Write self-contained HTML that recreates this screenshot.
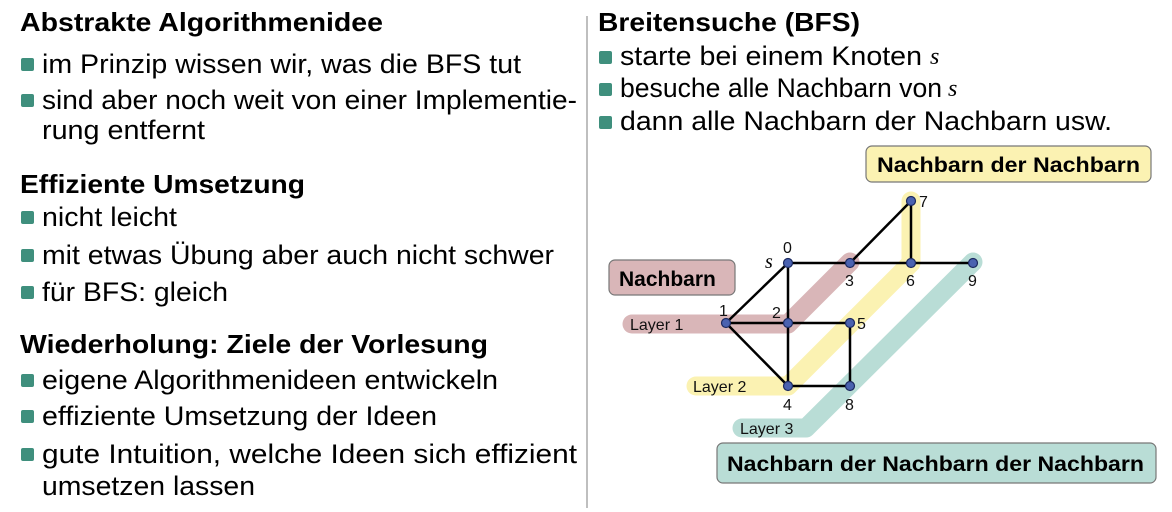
<!DOCTYPE html>
<html><head><meta charset="utf-8"><style>
html,body{margin:0;padding:0;background:#fff;}
svg{display:block;font-family:"Liberation Sans",sans-serif;}
.h{font-weight:bold;font-size:26px;fill:#000}
.b{font-size:27px;fill:#000}
.bl{fill:#3f8f7d}
.n{fill:#4a62b0;stroke:#1c2a60;stroke-width:1.2}
.lab{font-size:16px;fill:#111}
.box{font-weight:bold;font-size:21px;fill:#000}
</style></head><body>
<svg width="1172" height="512" viewBox="0 0 1172 512" xmlns="http://www.w3.org/2000/svg">
<line x1="587" y1="16" x2="587" y2="508" stroke="#aaa" stroke-width="1.5"/>
<text class="h" x="20" y="31" textLength="363" lengthAdjust="spacingAndGlyphs">Abstrakte Algorithmenidee</text>
<rect class="bl" x="21" y="58" width="13" height="13" rx="2"/>
<text class="b" x="42" y="73" textLength="479" lengthAdjust="spacingAndGlyphs">im Prinzip wissen wir, was die BFS tut</text>
<rect class="bl" x="21" y="94" width="13" height="13" rx="2"/>
<text class="b" x="42" y="109" textLength="535" lengthAdjust="spacingAndGlyphs">sind aber noch weit von einer Implementie-</text>
<text class="b" x="42" y="139" textLength="163" lengthAdjust="spacingAndGlyphs">rung entfernt</text>

<text class="h" x="20" y="193" textLength="285" lengthAdjust="spacingAndGlyphs">Effiziente Umsetzung</text>
<rect class="bl" x="21" y="211" width="13" height="13" rx="2"/>
<text class="b" x="42" y="226" textLength="135" lengthAdjust="spacingAndGlyphs">nicht leicht</text>
<rect class="bl" x="21" y="249" width="13" height="13" rx="2"/>
<text class="b" x="42" y="264" textLength="512" lengthAdjust="spacingAndGlyphs">mit etwas Übung aber auch nicht schwer</text>
<rect class="bl" x="21" y="286" width="13" height="13" rx="2"/>
<text class="b" x="42" y="301" textLength="186" lengthAdjust="spacingAndGlyphs">für BFS: gleich</text>

<text class="h" x="20" y="353" textLength="468" lengthAdjust="spacingAndGlyphs">Wiederholung: Ziele der Vorlesung</text>
<rect class="bl" x="21" y="374" width="13" height="13" rx="2"/>
<text class="b" x="42" y="389" textLength="456" lengthAdjust="spacingAndGlyphs">eigene Algorithmenideen entwickeln</text>
<rect class="bl" x="21" y="410" width="13" height="13" rx="2"/>
<text class="b" x="42" y="425" textLength="395" lengthAdjust="spacingAndGlyphs">effiziente Umsetzung der Ideen</text>
<rect class="bl" x="21" y="448" width="13" height="13" rx="2"/>
<text class="b" x="42" y="463" textLength="535" lengthAdjust="spacingAndGlyphs">gute Intuition, welche Ideen sich effizient</text>
<text class="b" x="42" y="495" textLength="213" lengthAdjust="spacingAndGlyphs">umsetzen lassen</text>

<text class="h" x="598" y="31" textLength="262" lengthAdjust="spacingAndGlyphs">Breitensuche (BFS)</text>
<rect class="bl" x="599" y="51" width="13" height="13" rx="2"/>
<text class="b" x="620" y="65" textLength="302" lengthAdjust="spacingAndGlyphs">starte bei einem Knoten</text>
<text x="930" y="64" font-style="italic" font-family="Liberation Serif" font-size="24">s</text>
<rect class="bl" x="599" y="83" width="13" height="13" rx="2"/>
<text class="b" x="620" y="97" textLength="322" lengthAdjust="spacingAndGlyphs">besuche alle Nachbarn von</text>
<text x="948" y="96" font-style="italic" font-family="Liberation Serif" font-size="24">s</text>
<rect class="bl" x="599" y="116" width="13" height="13" rx="2"/>
<text class="b" x="620" y="130" textLength="492" lengthAdjust="spacingAndGlyphs">dann alle Nachbarn der Nachbarn usw.</text>

<g fill="none" stroke-linecap="round" stroke-linejoin="round" stroke-width="19">
<polyline points="632,324 788,324 850,262" stroke="#d9b6b8"/>
<polyline points="696,386 788,386 911,263 911,201" stroke="#fbf2b2"/>
<polyline points="742,428 806,428 973,262" stroke="#b9ddd6"/>
</g>
<text class="lab" x="630" y="330">Layer 1</text>
<text class="lab" x="693" y="392">Layer 2</text>
<text class="lab" x="740" y="434">Layer 3</text>

<rect x="609" y="260" width="126" height="35" rx="6" fill="#d9b6b8" stroke="#777" stroke-width="1.2"/>
<text class="box" x="619" y="286">Nachbarn</text>
<rect x="866" y="146" width="285" height="36" rx="6" fill="#fbf2b2" stroke="#777" stroke-width="1.2"/>
<text class="box" x="877" y="172" textLength="263" lengthAdjust="spacingAndGlyphs">Nachbarn der Nachbarn</text>
<rect x="717" y="443" width="439" height="40" rx="6" fill="#b9ddd6" stroke="#777" stroke-width="1.2"/>
<text class="box" x="727" y="471" textLength="417" lengthAdjust="spacingAndGlyphs">Nachbarn der Nachbarn der Nachbarn</text>

<g stroke="#000" stroke-width="2.5" fill="none">
<line x1="788" y1="263" x2="973" y2="263"/>
<line x1="850" y1="263" x2="911" y2="201"/>
<line x1="911" y1="201" x2="911" y2="263"/>
<line x1="788" y1="263" x2="726" y2="323"/>
<line x1="788" y1="263" x2="788" y2="386"/>
<line x1="726" y1="323" x2="850" y2="323"/>
<line x1="726" y1="323" x2="788" y2="386"/>
<line x1="850" y1="323" x2="850" y2="386"/>
<line x1="788" y1="386" x2="850" y2="386"/>
</g>
<g>
<circle class="n" cx="788" cy="263" r="4.5"/>
<circle class="n" cx="850" cy="263" r="4.5"/>
<circle class="n" cx="911" cy="263" r="4.5"/>
<circle class="n" cx="973" cy="263" r="4.5"/>
<circle class="n" cx="911" cy="201" r="4.5"/>
<circle class="n" cx="726" cy="323" r="4.5"/>
<circle class="n" cx="788" cy="323" r="4.5"/>
<circle class="n" cx="850" cy="323" r="4.5"/>
<circle class="n" cx="788" cy="386" r="4.5"/>
<circle class="n" cx="850" cy="386" r="4.5"/>
</g>
<text class="lab" x="783" y="253">0</text>
<text x="765" y="268" font-style="italic" font-family="Liberation Serif" font-size="20">s</text>
<text class="lab" x="845" y="286">3</text>
<text class="lab" x="906" y="286">6</text>
<text class="lab" x="968" y="286">9</text>
<text class="lab" x="919" y="207">7</text>
<text class="lab" x="719" y="316">1</text>
<text class="lab" x="772" y="318">2</text>
<text class="lab" x="857" y="329">5</text>
<text class="lab" x="783" y="410">4</text>
<text class="lab" x="845" y="410">8</text>
</svg>
</body></html>
